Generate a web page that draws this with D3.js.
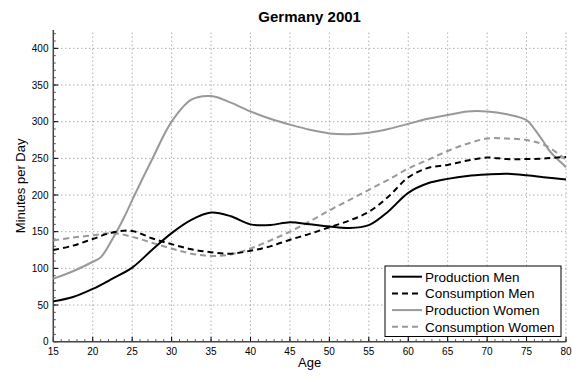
<!DOCTYPE html>
<html><head><meta charset="utf-8">
<script src="https://cdn.jsdelivr.net/npm/d3@7"></script>
<style>body{margin:0;background:#fff}svg{display:block;font-family:"Liberation Sans",Arial,sans-serif}</style>
</head><body><svg id="c" width="572" height="379"></svg>
<script>
const title = "Germany 2001";
const xTicks = [15,20,25,30,35,40,45,50,55,60,65,70,75,80];
const yTicks = [0,50,100,150,200,250,300,350,400];
const seriesNames = ["Production Men","Consumption Men","Production Women","Consumption Women"];

const ages = [15,17.5,20,22.5,25,27.5,30,32.5,35,37.5,40,42.5,45,47.5,50,52.5,55,57.5,60,62.5,65,67.5,70,72.5,75,77.5,80];
const productionMen = [55,61,72,86,101,125,148,166,176,171,160,159,163,160,157,155,159,178,203,216,222,226,228,229,227,224,221];
const consumptionMen = [125,131,140,149,151,141,133,126,122,120,124,130,139,147,156,165,177,198,224,237,241,247,251,249,249,250,252];
const agesProdWomen = [15,17.5,20,21,22.5,24,25,27.5,30,32.5,35,37.5,40,42.5,45,47.5,50,52.5,55,57.5,60,62.5,65,67.5,70,72.5,75,76,77,78,79,80];
const productionWomen = [86,96,109,115,140,170,193,248,300,330,335,326,314,304,296,289,284,283,285,290,297,304,309,314,314,310,302,290,275,259,248,238];
const consumptionWomen = [138,142,145,148,143,135,127,120,117,119,127,138,150,164,179,193,207,221,236,248,260,270,277,277,275,267,248];

const svg = d3.select("#c");
const L = 53.3, R = 566, T = 30, B = 341.7;
const x = d3.scaleLinear().domain([15,80]).range([L,R]);
const y = d3.scaleLinear().domain([0,425]).range([B,T]);

// grid
const g = svg.append("g");
g.selectAll(".vg").data(xTicks.slice(1)).join("line")
  .attr("x1",d=>x(d)).attr("x2",d=>x(d)).attr("y1",B).attr("y2",T)
  .attr("stroke","#888").attr("stroke-width",1).attr("stroke-dasharray","1,3");
g.selectAll(".hg").data(yTicks.slice(1)).join("line")
  .attr("x1",L).attr("x2",R).attr("y1",d=>y(d)).attr("y2",d=>y(d))
  .attr("stroke","#888").attr("stroke-width",1).attr("stroke-dasharray","1,3");

// minor ticks
const minorX = d3.range(15,80.01,1);
const minorY = d3.range(0,420.01,10);
g.selectAll(".mx").data(minorX).join("line")
  .attr("x1",d=>x(d)).attr("x2",d=>x(d)).attr("y1",B).attr("y2",B-2.5)
  .attr("stroke","#555").attr("stroke-width",1);
g.selectAll(".my").data(minorY).join("line")
  .attr("x1",L).attr("x2",L+2.5).attr("y1",d=>y(d)).attr("y2",d=>y(d))
  .attr("stroke","#555").attr("stroke-width",1);
// major ticks
g.selectAll(".Mx").data(xTicks).join("line")
  .attr("x1",d=>x(d)).attr("x2",d=>x(d)).attr("y1",B).attr("y2",B-5)
  .attr("stroke","#000").attr("stroke-width",1);
g.selectAll(".My").data(yTicks).join("line")
  .attr("x1",L).attr("x2",L+5).attr("y1",d=>y(d)).attr("y2",d=>y(d))
  .attr("stroke","#000").attr("stroke-width",1);

// axis lines
g.append("line").attr("x1",L).attr("x2",L).attr("y1",T).attr("y2",B).attr("stroke","#444").attr("stroke-width",1.5);
g.append("line").attr("x1",L).attr("x2",R).attr("y1",B).attr("y2",B).attr("stroke","#444").attr("stroke-width",1.5);

// tick labels
g.selectAll(".xl").data(xTicks).join("text")
  .attr("x",d=>x(d)).attr("y",355).attr("text-anchor","middle")
  .attr("font-size",10).text(d=>d);
g.selectAll(".yl").data(yTicks).join("text")
  .attr("x",48.5).attr("y",d=>y(d)+3.5).attr("text-anchor","end")
  .attr("font-size",10).text(d=>d);

// axis labels / title
svg.append("text").attr("x",(L+R)/2).attr("y",367).attr("text-anchor","middle").attr("font-size",13).text("Age");
svg.append("text").attr("transform",`translate(25,${(T+B)/2}) rotate(-90)`).attr("text-anchor","middle").attr("font-size",13).text("Minutes per Day");
svg.append("text").attr("x",(L+R)/2).attr("y",21.5).attr("text-anchor","middle").attr("font-size",15).attr("font-weight","bold").text(title);

// lines
const styles = [
  {xs:ages, ys:productionMen, color:"#000", dash:null},
  {xs:ages, ys:consumptionMen, color:"#000", dash:"6,4"},
  {xs:agesProdWomen, ys:productionWomen, color:"#999", dash:null},
  {xs:ages, ys:consumptionWomen, color:"#999", dash:"6,4"}
];
const line = d3.line().x(d=>x(d[0])).y(d=>y(d[1])).curve(d3.curveCatmullRom.alpha(0.5));
[3,2,1,0].forEach(i=>{
  const s = styles[i];
  svg.append("path").datum(s.xs.map((a,j)=>[a,s.ys[j]]))
    .attr("d",line).attr("fill","none").attr("stroke",s.color).attr("stroke-width",2)
    .attr("stroke-dasharray",s.dash);
});

// legend
const lg = svg.append("g");
lg.append("rect").attr("x",385).attr("y",266).attr("width",176).attr("height",70.5)
  .attr("fill","#fff").attr("stroke","#000").attr("stroke-width",1);
seriesNames.forEach((n,i)=>{
  const cy = 276.7 + i*16.7;
  lg.append("line").attr("x1",392).attr("x2",422).attr("y1",cy).attr("y2",cy)
    .attr("stroke",styles[i].color).attr("stroke-width",2).attr("stroke-dasharray",styles[i].dash);
  lg.append("text").attr("x",425).attr("y",cy+4.8).attr("font-size",13.5).text(n);
});
</script></body></html>
